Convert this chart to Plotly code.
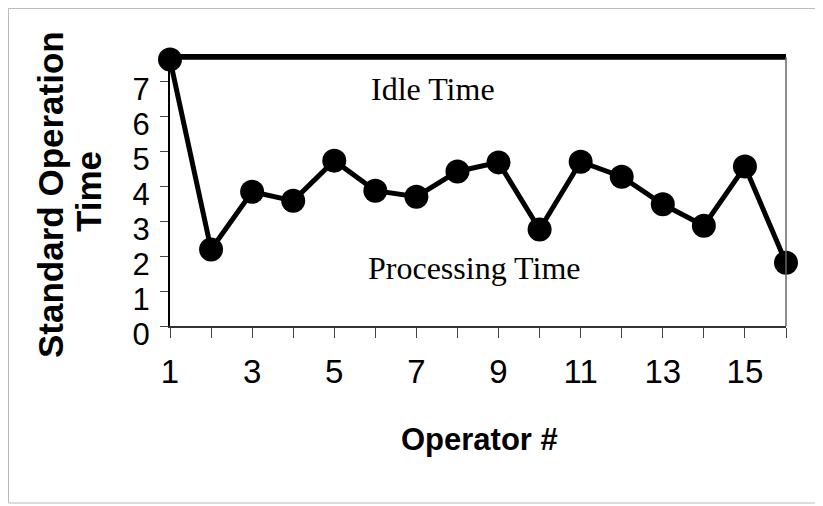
import plotly.graph_objects as go

operators = list(range(1, 17))
processing_time = [7.62, 2.19, 3.84, 3.58, 4.73, 3.87, 3.70, 4.42, 4.68, 2.76, 4.70, 4.27, 3.48, 2.87, 4.56, 1.81]
takt_time = 7.70
x_tick_vals = [1, 3, 5, 7, 9, 11, 13, 15]
y_tick_vals = [0, 1, 2, 3, 4, 5, 6, 7]

# page offset (browser body margin)
OFF = 8
W, H = 823, 506
L, R, T, B = 162, 45, 46, 188
pw, ph = W - L - R, H - T - B


def px(xp):
    return (xp - OFF - L) / pw


def py(yp):
    return (H - B - (yp - OFF)) / ph


fig = go.Figure()

fig.add_trace(go.Scatter(
    x=[operators[0], operators[-1]], y=[takt_time, takt_time],
    mode="lines", line=dict(color="black", width=6),
    hoverinfo="skip", showlegend=False,
))
fig.add_trace(go.Scatter(
    x=operators, y=processing_time,
    mode="lines+markers",
    line=dict(color="black", width=5),
    marker=dict(color="black", size=24, symbol="circle"),
    cliponaxis=False, showlegend=False,
))

serif = "Liberation Serif, Times New Roman, serif"
fig.add_annotation(x=7.4, y=6.78, xref="x", yref="y", text="Idle Time", showarrow=False,
                   xanchor="center", yanchor="middle",
                   font=dict(family=serif, size=32, color="black"))
fig.add_annotation(x=8.4, y=1.66, xref="x", yref="y", text="Processing Time", showarrow=False,
                   xanchor="center", yanchor="middle",
                   font=dict(family=serif, size=32, color="black"))

sans = "Liberation Sans, Arial, sans-serif"
fig.add_annotation(x=px(51), y=py(195), xref="paper", yref="paper", text="Standard Operation",
                   textangle=-90, showarrow=False, xanchor="center", yanchor="middle",
                   font=dict(family=sans, size=35, color="black", weight="bold"))
fig.add_annotation(x=px(88), y=py(192), xref="paper", yref="paper", text="Time",
                   textangle=-90, showarrow=False, xanchor="center", yanchor="middle",
                   font=dict(family=sans, size=35, color="black", weight="bold"))
fig.add_annotation(x=px(479), y=py(439), xref="paper", yref="paper", text="Operator #",
                   showarrow=False, xanchor="center", yanchor="middle",
                   font=dict(family=sans, size=31, color="black", weight="bold"))

# right plot border and outer frame
fig.add_shape(type="line", xref="paper", yref="paper", x0=1, x1=1, y0=0, y1=py(57),
              line=dict(color="#666666", width=1.5))
fig.add_shape(type="rect", xref="paper", yref="paper",
              x0=px(OFF + 0.5), x1=px(822), y0=py(503), y1=py(OFF + 0.5),
              line=dict(color="#bbbbbb", width=1))

fig.update_layout(
    width=W, height=H,
    margin=dict(l=L, r=R, t=T, b=B),
    paper_bgcolor="white", plot_bgcolor="white",
    showlegend=False,
    font=dict(family=sans, color="black"),
)
fig.update_xaxes(
    range=[1, 16], tickvals=x_tick_vals, ticks="outside", ticklen=10, tickwidth=1, tickcolor="#444",
    minor=dict(dtick=1, tick0=1, ticks="outside", ticklen=10, tickwidth=1, tickcolor="#444"),
    showgrid=False, zeroline=False, showline=True, linecolor="#333", linewidth=2,
    tickfont=dict(size=33, color="black"), ticklabelstandoff=5,
)
fig.update_yaxes(
    range=[0, 7.78], tickvals=y_tick_vals, ticks="outside", ticklen=8, tickwidth=1, tickcolor="#444",
    showgrid=False, zeroline=False, showline=True, linecolor="black", linewidth=2,
    tickfont=dict(size=31, color="black"), ticklabelshift=8, ticklabelstandoff=4,
)

fig.write_html("out.html")
